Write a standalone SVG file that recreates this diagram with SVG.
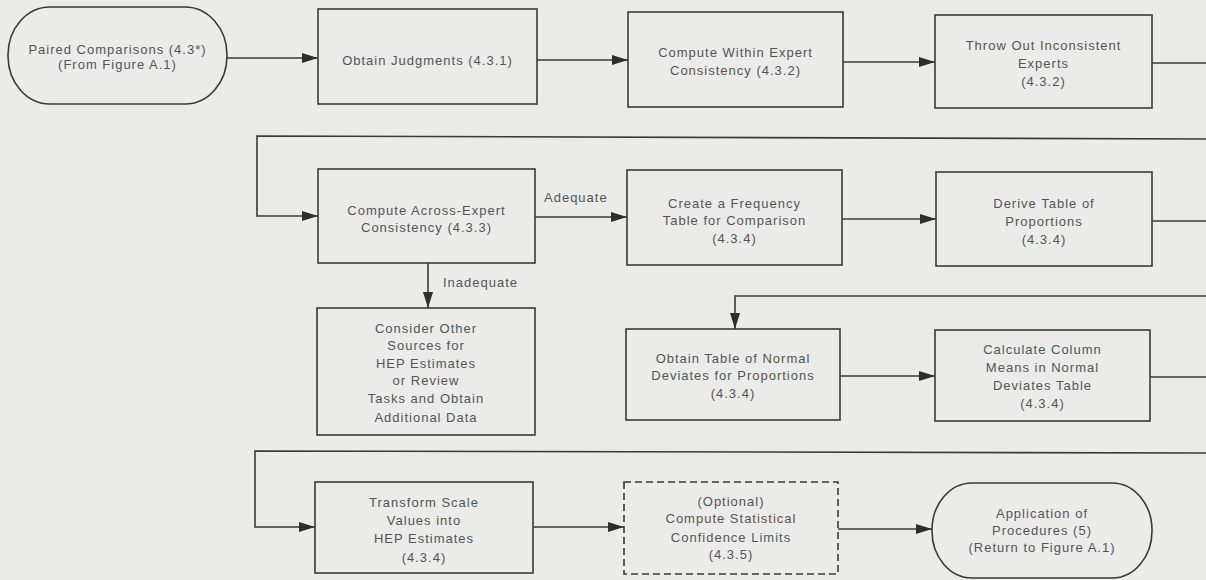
<svg xmlns="http://www.w3.org/2000/svg" width="1206" height="580" viewBox="0 0 1206 580">
<style>
.bg{fill:#ebebea}
.box{fill:none;stroke:#3a3a3a;stroke-width:1.6}
.dash{stroke-dasharray:7,4}
.t{font-family:"Liberation Sans",Arial,sans-serif;font-size:13px;letter-spacing:1px;fill:#555;text-anchor:middle}
.lbl{text-anchor:start}
.c{fill:none;stroke:#3a3a3a;stroke-width:1.6}
</style>
<defs>
<marker id="ah" viewBox="0 0 16 10" refX="16" refY="5" markerWidth="16" markerHeight="10" markerUnits="userSpaceOnUse" orient="auto">
<path d="M0,0 L16,5 L0,10 z" fill="#2e2e2e"/>
</marker>
</defs>
<rect class="bg" x="0" y="0" width="1206" height="580"/>

<g id="connectors">
<line class="c" x1="227" y1="58" x2="318" y2="58" marker-end="url(#ah)"/>
<line class="c" x1="537" y1="60" x2="628" y2="60" marker-end="url(#ah)"/>
<line class="c" x1="843" y1="62" x2="935" y2="62" marker-end="url(#ah)"/>
<polyline class="c" points="1152,63 1206,63"/>
<polyline class="c" points="1206,139 257,136 257,216 318,216" marker-end="url(#ah)"/>
<line class="c" x1="535" y1="217" x2="627" y2="217" marker-end="url(#ah)"/>
<text class="t lbl" x="544" y="202">Adequate</text>
<line class="c" x1="428" y1="263" x2="428" y2="308" marker-end="url(#ah)"/>
<text class="t lbl" x="443" y="287">Inadequate</text>
<line class="c" x1="842" y1="219" x2="936" y2="219" marker-end="url(#ah)"/>
<polyline class="c" points="1152,221 1206,221"/>
<polyline class="c" points="1206,296 735,296 735,329" marker-end="url(#ah)"/>
<line class="c" x1="840" y1="376" x2="935" y2="376" marker-end="url(#ah)"/>
<polyline class="c" points="1150,377 1206,377"/>
<polyline class="c" points="1206,453 255,451 255,527 315,527" marker-end="url(#ah)"/>
<line class="c" x1="533" y1="527" x2="624" y2="527" marker-end="url(#ah)"/>
<line class="c" x1="838" y1="529" x2="932" y2="529" marker-end="url(#ah)"/>
</g>

<g id="n1">
<rect class="box" x="8" y="7" width="219" height="97" rx="42" ry="48"/>
<text class="t" x="117.5" y="53.5">Paired Comparisons (4.3*)</text>
<text class="t" x="117.5" y="68.5">(From Figure A.1)</text>
</g>
<g id="n2">
<rect class="box" x="318" y="9" width="219" height="95"/>
<text class="t" x="427.5" y="65">Obtain Judgments (4.3.1)</text>
</g>
<g id="n3">
<rect class="box" x="628" y="12" width="215" height="95"/>
<text class="t" x="735.5" y="56.5">Compute Within Expert</text>
<text class="t" x="735.5" y="75">Consistency (4.3.2)</text>
</g>
<g id="n4">
<rect class="box" x="935" y="15" width="217" height="93"/>
<text class="t" x="1043.5" y="49.5">Throw Out Inconsistent</text>
<text class="t" x="1043.5" y="67.5">Experts</text>
<text class="t" x="1043.5" y="85.5">(4.3.2)</text>
</g>
<g id="n5">
<rect class="box" x="318" y="169" width="217" height="94"/>
<text class="t" x="426.5" y="214.5">Compute Across-Expert</text>
<text class="t" x="426.5" y="231.5">Consistency (4.3.3)</text>
</g>
<g id="n6">
<rect class="box" x="627" y="170" width="215" height="95"/>
<text class="t" x="734.5" y="207.5">Create a Frequency</text>
<text class="t" x="734.5" y="224.5">Table for Comparison</text>
<text class="t" x="734.5" y="242.5">(4.3.4)</text>
</g>
<g id="n7">
<rect class="box" x="936" y="172" width="216" height="94"/>
<text class="t" x="1044" y="207.5">Derive Table of</text>
<text class="t" x="1044" y="225.5">Proportions</text>
<text class="t" x="1044" y="243.5">(4.3.4)</text>
</g>
<g id="n8">
<rect class="box" x="317" y="308" width="218" height="127"/>
<text class="t" x="426" y="332.5">Consider Other</text>
<text class="t" x="426" y="349.5">Sources for</text>
<text class="t" x="426" y="367.5">HEP Estimates</text>
<text class="t" x="426" y="384.5">or Review</text>
<text class="t" x="426" y="402.5">Tasks and Obtain</text>
<text class="t" x="426" y="421.5">Additional Data</text>
</g>
<g id="n9">
<rect class="box" x="626" y="329" width="214" height="91"/>
<text class="t" x="733" y="362.5">Obtain Table of Normal</text>
<text class="t" x="733" y="379.5">Deviates for Proportions</text>
<text class="t" x="733" y="397.5">(4.3.4)</text>
</g>
<g id="n10">
<rect class="box" x="935" y="330" width="215" height="91"/>
<text class="t" x="1042.5" y="353.5">Calculate Column</text>
<text class="t" x="1042.5" y="371.5">Means in Normal</text>
<text class="t" x="1042.5" y="389.5">Deviates Table</text>
<text class="t" x="1042.5" y="407.5">(4.3.4)</text>
</g>
<g id="n11">
<rect class="box" x="315" y="482" width="218" height="91"/>
<text class="t" x="424" y="506.5">Transform Scale</text>
<text class="t" x="424" y="524.5">Values into</text>
<text class="t" x="424" y="542.5">HEP Estimates</text>
<text class="t" x="424" y="561.5">(4.3.4)</text>
</g>
<g id="n12">
<rect class="box dash" x="624" y="482" width="214" height="92"/>
<text class="t" x="731" y="505.5">(Optional)</text>
<text class="t" x="731" y="522.5">Compute Statistical</text>
<text class="t" x="731" y="541.5">Confidence Limits</text>
<text class="t" x="731" y="558.5">(4.3.5)</text>
</g>
<g id="n13">
<rect class="box" x="932" y="483" width="220" height="95" rx="40" ry="47"/>
<text class="t" x="1042" y="517.5">Application of</text>
<text class="t" x="1042" y="534.5">Procedures (5)</text>
<text class="t" x="1042" y="551.5">(Return to Figure A.1)</text>
</g>
</svg>
